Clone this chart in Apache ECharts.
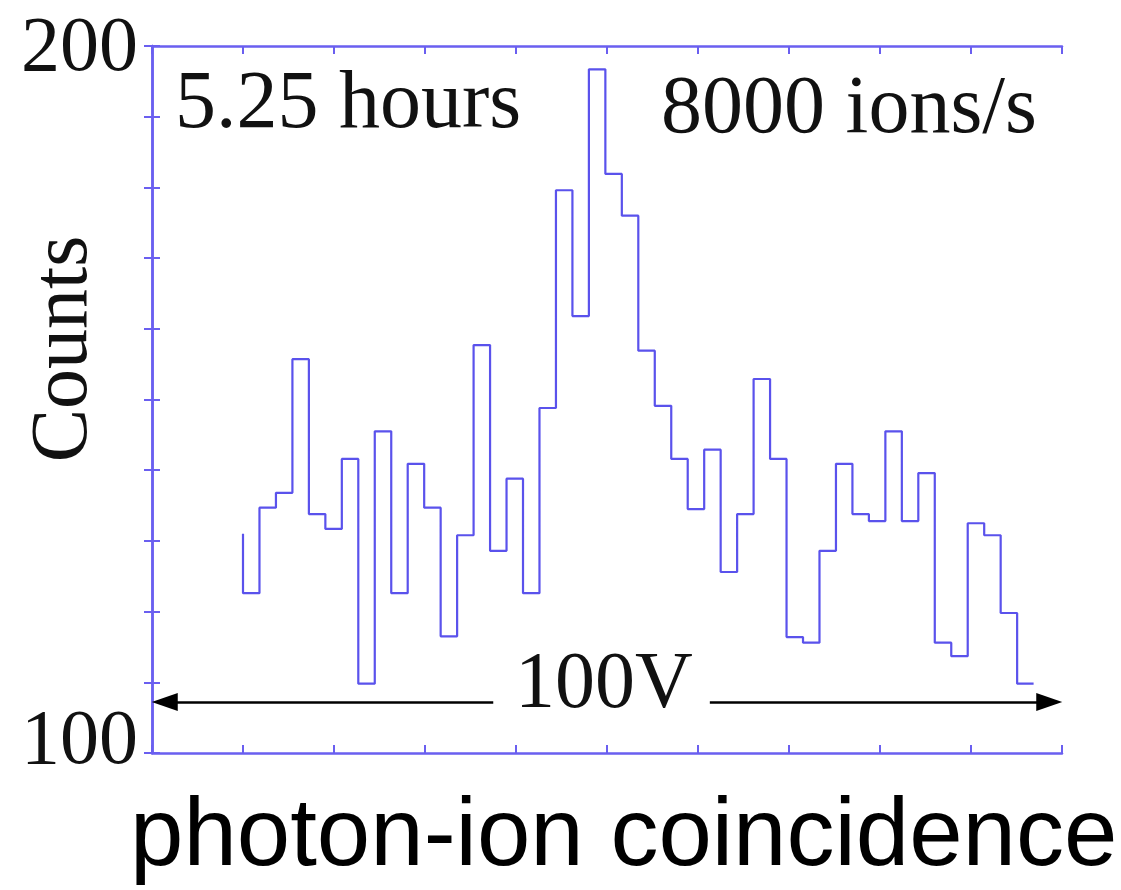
<!DOCTYPE html>
<html>
<head>
<meta charset="utf-8">
<script src="https://cdn.jsdelivr.net/npm/echarts@6/dist/echarts.min.js"></script>
<style>html,body{margin:0;padding:0;background:#fff;}#c{width:1121px;height:890px;}</style>
</head>
<body>
<div id="c"></div>
<script>
// ---- data ----
var counts = [122.6, 134.7, 136.8, 155.7, 133.8, 131.7, 141.6, 109.8, 145.5, 122.6,
              140.9, 134.7, 116.5, 130.8, 157.7, 128.6, 138.8, 122.6, 148.8, 179.6,
              161.8, 196.7, 181.9, 176.0, 156.9, 149.1, 141.6, 134.5, 142.9, 125.6,
              133.8, 152.9, 141.6, 116.4, 115.6, 128.6, 140.9, 133.8, 132.8, 145.5,
              132.8, 139.6, 115.6, 113.7, 132.5, 130.8, 119.8, 109.8];
var startLevel = 131.0;      // level where the trace begins
var firstEdge = 1.0;         // x of first bin's left edge (axis units)
var binWidth = 0.181;        // bin width (axis units)
var yTickLabels = [100, 200];
var arrowLevel = 107.2;      // y of the 100V arrow
var arrowLeft = [0.14, 3.75];    // x range of left arrow (tip, tail)
var arrowRight = [6.13, 9.86];   // x range of right arrow (tail, tip)
var annotations = { left: '5.25 hours', right: '8000 ions/s', span: '100V' };
var yName = 'Counts';
var caption = 'photon-ion coincidence';

// ---- build series ----
var pts = [[firstEdge, startLevel]];
for (var i = 0; i < counts.length; i++) pts.push([firstEdge + i * binWidth, counts[i]]);
pts.push([firstEdge + counts.length * binWidth, counts[counts.length - 1]]);

var frame = '#6a5ff0';
var serif = '"Liberation Serif", "Times New Roman", serif';

var chart = echarts.init(document.getElementById('c'), null, {renderer: 'canvas'});
var axisCommon = {
  axisLine: {show: true, lineStyle: {color: frame, width: 2.5}},
  axisTick: {show: true, inside: true, length: 8, lineStyle: {color: frame, width: 2}},
  splitLine: {show: false}
};
chart.setOption({
  animation: false,
  grid: {left: 152, right: 59, top: 46, bottom: 137},
  xAxis: [
    Object.assign({type: 'value', min: 0, max: 10, interval: 1, position: 'bottom', axisLabel: {show: false}}, axisCommon),
    Object.assign({type: 'value', min: 0, max: 10, interval: 1, position: 'top', axisLabel: {show: false}}, axisCommon)
  ],
  yAxis: [
    Object.assign({type: 'value', min: 100, max: 200, interval: 10, position: 'left',
      axisLabel: {
        show: true, margin: 14,
        formatter: function (v) {
          if (v === yTickLabels[0]) return '{b|' + v + '}';
          if (v === yTickLabels[1]) return '{a|' + v + '}';
          return '';
        },
        rich: {
          a: {fontFamily: serif, fontSize: 78, color: '#111', padding: [8, 0, 0, 0]},
          b: {fontFamily: serif, fontSize: 78, color: '#111', padding: [0, 0, 20, 0]}
        }
      }}, axisCommon),
    Object.assign({type: 'value', min: 100, max: 200, interval: 10, position: 'right', axisLabel: {show: false}}, axisCommon)
  ],
  series: [{
    type: 'line',
    step: 'end',
    data: pts,
    showSymbol: false,
    lineStyle: {color: '#5a52ec', width: 2.2},
    markLine: {
      silent: true,
      symbolSize: [18, 26],
      lineStyle: {color: '#000', width: 2.5, type: 'solid'},
      label: {show: false},
      data: [
        [{coord: [arrowLeft[1], arrowLevel], symbol: 'none'}, {coord: [arrowLeft[0], arrowLevel], symbol: 'triangle'}],
        [{coord: [arrowRight[0], arrowLevel], symbol: 'none'}, {coord: [arrowRight[1], arrowLevel], symbol: 'triangle'}]
      ]
    }
  }],
  graphic: [
    {type: 'text', x: 175, y: 105, style: {text: annotations.left, font: '82px ' + serif, fill: '#111', textAlign: 'left', textVerticalAlign: 'middle'}},
    {type: 'text', x: 1037, y: 110, style: {text: annotations.right, font: '82px ' + serif, fill: '#111', textAlign: 'right', textVerticalAlign: 'middle'}},
    {type: 'text', x: 604, y: 686, style: {text: annotations.span, font: '80px ' + serif, fill: '#111', textAlign: 'center', textVerticalAlign: 'middle'}},
    {type: 'text', x: 65, y: 349, rotation: Math.PI / 2, style: {text: yName, font: '80px ' + serif, fill: '#111', textAlign: 'center', textVerticalAlign: 'middle'}},
    {type: 'text', x: 130, y: 839, style: {text: caption, font: '96px "Liberation Sans", Arial, sans-serif', fill: '#000', textAlign: 'left', textVerticalAlign: 'middle'}}
  ]
});
</script>
</body>
</html>
